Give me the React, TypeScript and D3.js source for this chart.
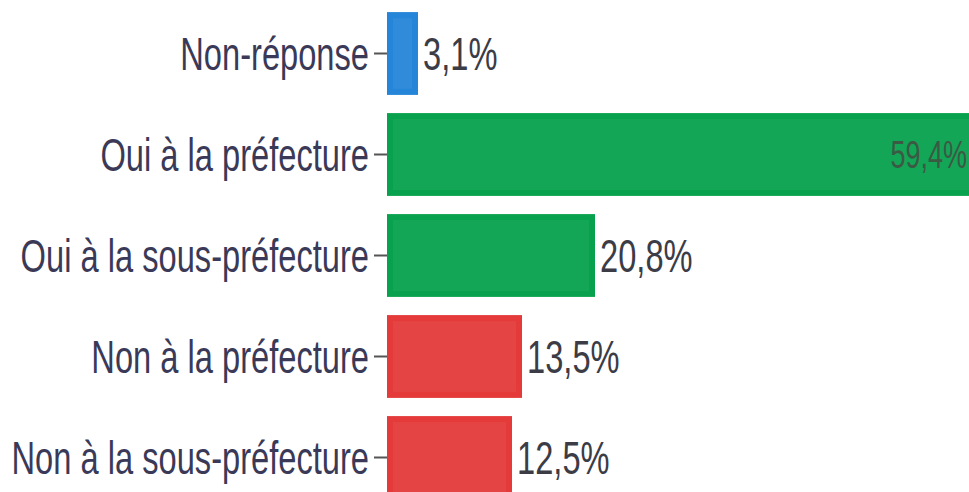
import React from 'react';
import * as d3 from 'd3';

const categories = [
  'Non-réponse',
  'Oui à la préfecture',
  'Oui à la sous-préfecture',
  'Non à la préfecture',
  'Non à la sous-préfecture',
];
const values = [3.1, 59.4, 20.8, 13.5, 12.5];
const colors = ['#2585d8', '#08a24e', '#08a24e', '#e43a3a', '#e43a3a'];

const W = 969;
const H = 492;
const FONT = '"Liberation Sans", Arial, sans-serif';
// the original uses a narrow face, so squeeze the glyphs horizontally
const SQUEEZE = 0.71;

const App: React.FC = () => {
  // scales: 10px per percent, starting at the axis
  const x = d3.scaleLinear().domain([0, 60]).range([387, 987]);
  const y = d3.scaleBand<string>()
    .domain(categories)
    .range([3, 508])
    .paddingInner(0.18)
    .paddingOuter(0.09);

  const fmt = (v: number) => d3.format('.1f')(v).replace('.', ',') + '%';

  return (
    <svg
      width={W}
      height={H}
      style={{ position: 'absolute', left: 0, top: 0, background: '#fff' }}
    >
      {/* ticks and category labels */}
      {categories.map((c) => {
        const cy = (y(c) ?? 0) + y.bandwidth() / 2;
        return (
          <g key={c}>
            <line x1={x(0) - 13} x2={x(0)} y1={cy} y2={cy} stroke="#555" strokeWidth={2} />
            <text
              transform={`translate(${x(0) - 18},${cy}) scale(${SQUEEZE},1)`}
              dy="0.36em"
              textAnchor="end"
              fontFamily={FONT}
              fontSize={46}
              fill="#3a3a58"
            >
              {c}
            </text>
          </g>
        );
      })}

      {/* bars */}
      {categories.map((c, i) => {
        const by = y(c) ?? 0;
        const bw = x(values[i]) - x(0);
        const inside = x(values[i]) > W - 60;
        const lx = inside ? x(values[i]) - 14 : x(values[i]) + 5;
        return (
          <g key={'b' + c}>
            <rect x={x(0)} y={by} width={bw} height={y.bandwidth()} fill={colors[i]} />
            <rect
              x={x(0) + 6}
              y={by + 6}
              width={Math.max(bw - 12, 0)}
              height={y.bandwidth() - 12}
              fill="#fff"
              opacity={0.05}
            />
            <text
              transform={`translate(${lx},${by + y.bandwidth() / 2}) scale(${SQUEEZE},1)`}
              dy="0.36em"
              textAnchor={inside ? 'end' : 'start'}
              fontFamily={FONT}
              fontSize={inside ? 38 : 46}
              fill={inside ? '#3b5a44' : '#3c3c46'}
            >
              {fmt(values[i])}
            </text>
          </g>
        );
      })}
    </svg>
  );
};

export default App;
